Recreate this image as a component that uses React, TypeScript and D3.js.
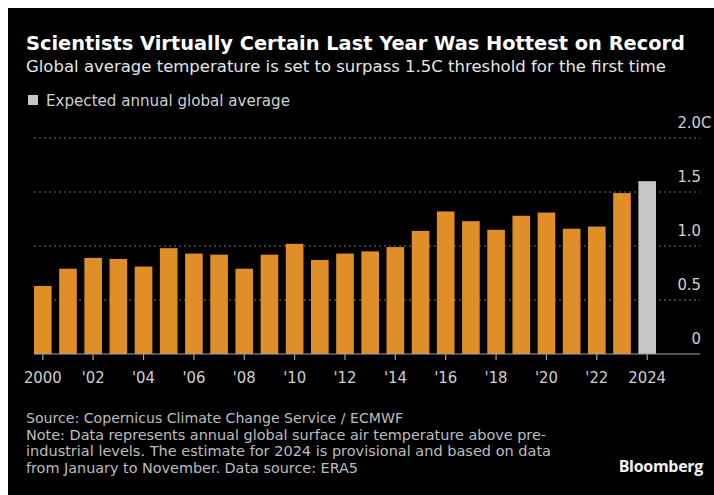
import React from "react";
import * as d3 from "d3";

const years = [
  2000, 2001, 2002, 2003, 2004, 2005, 2006, 2007, 2008, 2009, 2010, 2011, 2012,
  2013, 2014, 2015, 2016, 2017, 2018, 2019, 2020, 2021, 2022, 2023, 2024,
];
const anomaly = [
  0.63, 0.79, 0.89, 0.88, 0.81, 0.98, 0.93, 0.92, 0.79, 0.92, 1.02, 0.87, 0.93,
  0.95, 0.99, 1.14, 1.32, 1.23, 1.15, 1.28, 1.31, 1.16, 1.18, 1.49, 1.6,
];
const estimateYears = [2024];
const yTicks = [0, 0.5, 1, 1.5, 2];
const xTickYears = [
  2000, 2002, 2004, 2006, 2008, 2010, 2012, 2014, 2016, 2018, 2020, 2022, 2024,
];
const footerLines = [
  "Source: Copernicus Climate Change Service / ECMWF",
  "Note: Data represents annual global surface air temperature above pre-",
  "industrial levels. The estimate for 2024 is provisional and based on data",
  "from January to November. Data source: ERA5",
];
const footerWidths = [377, 520, 525, 332];

const W = 714;
const H = 495;
const condensed = "'DejaVu Sans Condensed', 'DejaVu Sans', sans-serif";

const App = () => {
  const x = d3
    .scaleBand<number>()
    .domain(years)
    .range([34, 656])
    .paddingInner(0.3)
    .paddingOuter(0);
  const y = d3.scaleLinear().domain([0, 2]).range([354, 138]);

  const yLabel = (v: number) => (v === 0 ? "0" : d3.format(".1f")(v));
  const xLabel = (yr: number) =>
    yr === 2000 || yr === 2024 ? String(yr) : "'" + String(yr).slice(2);

  return (
    <svg
      width={W}
      height={H}
      style={{ position: "absolute", left: 0, top: 0, display: "block" }}
    >
      <rect x={0} y={0} width={W} height={H} fill="#fff" />
      <rect x={8} y={8} width={W - 8} height={H - 8} fill="#000" />

      {/* header */}
      <text
        x={26}
        y={50}
        fill="#fff"
        fontFamily="'DejaVu Sans', sans-serif"
        fontWeight="bold"
        fontSize={19}
        textLength={659}
        lengthAdjust="spacingAndGlyphs"
      >
        Scientists Virtually Certain Last Year Was Hottest on Record
      </text>
      <text
        x={26}
        y={72}
        fill="#e6e6e6"
        fontFamily={condensed}
        fontStretch="condensed"
        fontSize={16.5}
        textLength={640}
        lengthAdjust="spacingAndGlyphs"
      >
        Global average temperature is set to surpass 1.5C threshold for the first time
      </text>

      {/* legend */}
      <rect x={28} y={95} width={10} height={10} fill="#c8c8c8" />
      <text
        x={46}
        y={105.5}
        fill="#cfcfcf"
        fontFamily={condensed}
        fontStretch="condensed"
        fontSize={16}
        textLength={244}
        lengthAdjust="spacingAndGlyphs"
      >
        Expected annual global average
      </text>

      {/* grid */}
      {yTicks
        .filter((v) => v > 0)
        .map((v) => (
          <line
            key={"g" + v}
            x1={34}
            x2={700}
            y1={y(v)}
            y2={y(v)}
            stroke="#777"
            strokeWidth={1}
            strokeDasharray="2,3"
          />
        ))}

      {/* bars */}
      {years.map((yr, i) => (
        <rect
          key={yr}
          x={x(yr)}
          y={y(anomaly[i])}
          width={x.bandwidth()}
          height={y(0) - y(anomaly[i])}
          fill={estimateYears.includes(yr) ? "#c6c6c6" : "#df8e28"}
        />
      ))}

      {/* baseline + ticks */}
      <line x1={34} x2={700} y1={y(0)} y2={y(0)} stroke="#9aa3b0" strokeWidth={1.2} />
      {xTickYears.map((yr) => {
        const cx = (x(yr) as number) + x.bandwidth() / 2;
        return (
          <g key={"t" + yr}>
            <line x1={cx} x2={cx} y1={y(0)} y2={y(0) + 6} stroke="#9aa3b0" strokeWidth={1.2} />
            <text
              x={cx}
              y={382.5}
              textAnchor="middle"
              fill="#cfcfcf"
              fontFamily={condensed}
              fontStretch="condensed"
              fontSize={16.5}
            >
              {xLabel(yr)}
            </text>
          </g>
        );
      })}

      {/* y labels */}
      {yTicks.map((v) => (
        <text
          key={"y" + v}
          x={701}
          y={y(v) - 10.5}
          textAnchor="end"
          fill="#cfcfcf"
          fontFamily={condensed}
          fontStretch="condensed"
          fontSize={16.5}
        >
          {yLabel(v)}
        </text>
      ))}
      <text
        x={701}
        y={y(2) - 10.5}
        fill="#cfcfcf"
        fontFamily={condensed}
        fontStretch="condensed"
        fontSize={16.5}
      >
        C
      </text>

      {/* footer */}
      {footerLines.map((line, i) => (
        <text
          key={"f" + i}
          x={26}
          y={423 + i * 16.5}
          fill="#bdbdbd"
          fontFamily={condensed}
          fontStretch="condensed"
          fontSize={14.5}
          textLength={footerWidths[i]}
          lengthAdjust="spacingAndGlyphs"
        >
          {line}
        </text>
      ))}
      <text
        x={703}
        y={472}
        textAnchor="end"
        fill="#f2f2f2"
        fontFamily="'Open Sans', 'DejaVu Sans', sans-serif"
        fontWeight="bold"
        fontSize={16}
        letterSpacing={-0.3}
      >
        Bloomberg
      </text>
    </svg>
  );
};

export default App;
